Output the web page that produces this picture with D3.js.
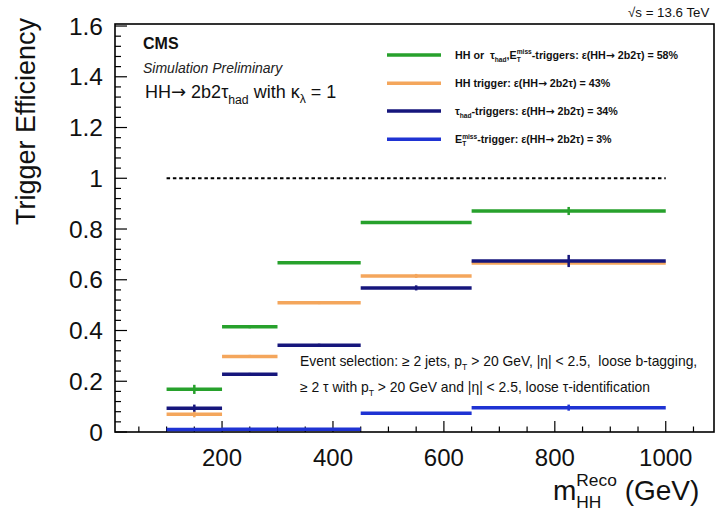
<!DOCTYPE html>
<html><head><meta charset="utf-8">
<script src="https://cdn.jsdelivr.net/npm/d3@7"></script>
<style>body{margin:0;background:#fff}svg{display:block}text{font-family:"Liberation Sans",Arial,Helvetica,sans-serif;white-space:pre}</style>
</head><body>
<svg id="c" width="720" height="513"></svg>
<script>
// ---- data ----
const binEdges = [100, 200, 300, 450, 650, 1000];
const effCombined = [0.168, 0.415, 0.667, 0.826, 0.871];
const errCombined = [0.018, 0.006, 0.004, 0.005, 0.016];
const effHH = [0.070, 0.298, 0.509, 0.615, 0.666];
const errHH = [0.012, 0.006, 0.005, 0.008, 0.010];
const effTau = [0.094, 0.228, 0.342, 0.568, 0.674];
const errTau = [0.014, 0.005, 0.006, 0.010, 0.024];
const effMET = [0.010, 0.011, 0.011, 0.074, 0.096];
const errMET = [0.004, 0.003, 0.003, 0.004, 0.012];
const xTicks = [200, 400, 600, 800, 1000];
const yTicks = [0, 0.2, 0.4, 0.6, 0.8, 1, 1.2, 1.4, 1.6];
const referenceLine = 1;
const legendPct = ["58%", "43%", "34%", "3%"];

const svg = d3.select("#c");
const L = 115, R = 714, T = 24, B = 432;
const x = d3.scaleLinear().domain([7, 1087]).range([L, R]);
const y = d3.scaleLinear().domain([0, 1.608]).range([B, T]);

const colors = {green:"#27a12c", orange:"#f4a65c", navy:"#16167c", blue:"#1f33d3"};

// frame
svg.append("rect").attr("x", L).attr("y", T).attr("width", R-L).attr("height", B-T)
  .attr("fill","none").attr("stroke","#000").attr("stroke-width",1.6);

// x ticks (inward)
d3.range(50, 1087, 50).forEach(v => {
  const major = v % 200 === 0;
  svg.append("line").attr("x1", x(v)).attr("x2", x(v)).attr("y1", B).attr("y2", B - (major ? 11 : 5.5))
    .attr("stroke","#000").attr("stroke-width",1.2);
});
svg.append("g").selectAll("text").data(xTicks).join("text")
  .attr("x", d => x(d)).attr("y", 466).attr("text-anchor","middle")
  .attr("font-size", 24).attr("fill","#111").text(d => d3.format("d")(d));

// y ticks
d3.range(0, 1.61, 0.04).forEach(v => {
  const major = Math.abs(v/0.2 - Math.round(v/0.2)) < 1e-6;
  svg.append("line").attr("x1", L).attr("x2", L + (major ? 12 : 6)).attr("y1", y(v)).attr("y2", y(v))
    .attr("stroke","#000").attr("stroke-width",1.2);
});
svg.append("g").selectAll("text").data(yTicks).join("text")
  .attr("x", 103).attr("y", d => y(d) + 8.7).attr("text-anchor","end")
  .attr("font-size", 24.5).attr("fill","#111").text(d => d === 0 ? "0" : (d === 1 ? "1" : d3.format(".1f")(d)));

// y title
svg.append("text").attr("transform","translate(35,18) rotate(-90)").attr("text-anchor","end")
  .attr("font-size", 27).attr("fill","#111").text("Trigger Efficiency");

// rich text helper: sequential pieces, sub/sup, stacked sup+sub
function rich(parent, x0, yb, parts, size, attrs) {
  let cx = x0, pending = null;
  const g = parent.append("g");
  parts.forEach(p => {
    const fs = p.s ? size * (p.scale || 0.62) : size;
    let dy = 0;
    if (p.s === "sub") dy = size * (p.down || 0.3);
    if (p.s === "sup") dy = -size * (p.up || 0.42);
    const t = g.append("text").attr("x", cx).attr("y", yb + dy).attr("font-size", fs).text(p.t);
    Object.entries(attrs || {}).forEach(([k,v]) => t.attr(k, v));
    if (p.font) t.style("font-family", p.font);
    const w = t.node().getComputedTextLength();
    if (p.stack) { pending = {x: cx, w: w}; }
    else if (pending && p.pair) {
      t.attr("x", pending.x);
      cx = pending.x + Math.max(w, pending.w);
      pending = null;
    } else cx += w;
  });
  return g;
}
const ARROW = {t:"→", font:"DejaVu Sans"};

// bins
const seriesData = [
  {name:"orange", eff:effHH, err:errHH},
  {name:"navy", eff:effTau, err:errTau},
  {name:"blue", eff:effMET, err:errMET},
  {name:"green", eff:effCombined, err:errCombined}
];
const bins = d3.range(binEdges.length - 1).map(i => ({lo: binEdges[i], hi: binEdges[i+1], c: (binEdges[i]+binEdges[i+1])/2}));

// reference dashed line
svg.append("line").attr("x1", x(binEdges[0])).attr("x2", x(binEdges[binEdges.length-1]))
  .attr("y1", y(referenceLine)).attr("y2", y(referenceLine))
  .attr("stroke","#000").attr("stroke-width",2).attr("stroke-dasharray","3.5,2.8");

seriesData.forEach(s => {
  const g = svg.append("g");
  bins.forEach((b, i) => {
    g.append("line").attr("x1", x(b.lo)).attr("x2", x(b.hi)).attr("y1", y(s.eff[i])).attr("y2", y(s.eff[i]))
      .attr("stroke", colors[s.name]).attr("stroke-width", 3.5);
    g.append("line").attr("x1", x(b.c)).attr("x2", x(b.c))
      .attr("y1", y(s.eff[i] - s.err[i])).attr("y2", y(s.eff[i] + s.err[i]))
      .attr("stroke", colors[s.name]).attr("stroke-width", 2.5);
  });
});

// legend
const legY = [55, 83.3, 111, 139.3];
const legOrder = ["green","orange","navy","blue"];
const legG = svg.append("g");
legOrder.forEach((n, i) => {
  legG.append("line").attr("x1", 387).attr("x2", 441).attr("y1", legY[i]).attr("y2", legY[i])
    .attr("stroke", colors[n]).attr("stroke-width", 3.5);
});
const lfs = 10.7, la = {"font-weight":"bold","fill":"#111"};
const tail = (pct) => [{t:": ε(HH"}, ARROW, {t:" 2b2τ) = " + pct}];
rich(legG, 455, legY[0]+3.8, [{t:"HH or  τ"},{t:"had",s:"sub"},{t:",E"},{t:"miss",s:"sup",stack:true},{t:"T",s:"sub",pair:true},{t:"-triggers"}].concat(tail(legendPct[0])), lfs, la);
rich(legG, 455, legY[1]+3.8, [{t:"HH trigger"}].concat(tail(legendPct[1])), lfs, la);
rich(legG, 455, legY[2]+3.8, [{t:"τ"},{t:"had",s:"sub"},{t:"-triggers"}].concat(tail(legendPct[2])), lfs, la);
rich(legG, 455, legY[3]+3.8, [{t:"E"},{t:"miss",s:"sup",stack:true},{t:"T",s:"sub",pair:true},{t:"-trigger"}].concat(tail(legendPct[3])), lfs, la);

// labels top-left
svg.append("text").attr("x",143).attr("y",49).attr("font-size",16).attr("font-weight","bold").attr("fill","#111").text("CMS");
svg.append("text").attr("x",143).attr("y",73).attr("font-size",14).attr("font-style","italic").attr("fill","#222").text("Simulation Preliminary");
rich(svg, 145, 98, [{t:"HH"}, {t:"→", font:"DejaVu Sans", scale:1}, {t:" 2b2τ"},{t:"had",s:"sub",down:0.32,scale:0.68},{t:" with κ"},{t:"λ",s:"sub",scale:0.68},{t:" = 1"}], 18, {"fill":"#111"});

// sqrt(s)
rich(svg, 628, 17, [{t:"√s = 13.6 TeV"}], 13.3, {"fill":"#111"});

// event selection
const sel = {"fill":"#111"};
rich(svg, 300, 366, [{t:"Event selection: ≥ 2 jets, p"},{t:"T",s:"sub"},{t:" > 20 GeV, |η| < 2.5,  loose b-tagging,"}], 13.9, sel);
rich(svg, 300, 391.5, [{t:"≥ 2 τ with p"},{t:"T",s:"sub"},{t:" > 20 GeV and |η| < 2.5, loose τ-identification"}], 13.9, sel);

// x title
rich(svg, 553, 500, [{t:"m"},{t:"Reco",s:"sup",stack:true,scale:0.62,up:0.5},{t:"HH",s:"sub",pair:true,scale:0.62,down:0.3},{t:" (GeV)"}], 28, {"fill":"#111"});
</script>
</body></html>
